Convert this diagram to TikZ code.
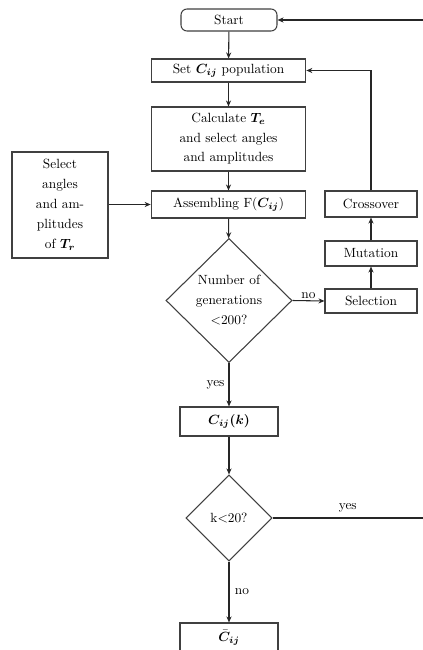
\documentclass[tikz,border=0pt]{standalone}
\usepackage{amsmath,bm}
\usetikzlibrary{shapes.geometric,arrows.meta}
\begin{document}
\begin{tikzpicture}[x=0.75pt,y=-0.75pt,
  box/.style={draw=black!75, line width=0.8pt, fill=white, inner sep=1pt, align=center, font=\fontsize{10}{14.6}\selectfont},
  dia/.style={draw=black!75, line width=0.8pt, fill=white, diamond, inner sep=0pt, align=center, font=\fontsize{10}{15}\selectfont},
  arr/.style={line width=0.8pt, draw=black!85, -{Stealth[length=4.5pt,width=3.8pt]}},
  ln/.style={line width=0.8pt, draw=black!85},
  lbl/.style={font=\fontsize{10}{12}\selectfont, inner sep=1pt}]
\useasboundingbox (0,0) rectangle (423,650);

\node[box, rounded corners=4.5pt, minimum width=72pt, minimum height=16.5pt] (start) at (229,20) {Start};
\node[box, minimum width=116pt, minimum height=17.25pt] (set) at (228.5,70.5) {Set $\bm{C_{ij}}$ population};
\node[box, minimum width=116pt, minimum height=48pt] (calc) at (228.5,139) {Calculate $\bm{T_e}$\\and select angles\\and amplitudes};
\node[box, minimum width=116pt, minimum height=20.25pt] (asm) at (228.5,204.5) {Assembling F($\bm{C_{ij}}$)};
\node[box, font=\fontsize{10}{15}\selectfont, minimum width=72pt, minimum height=79.5pt] (tr) at (60,205) {Select\\angles\\and am-\\plitudes\\of $\bm{T_r}$};
\node[dia, minimum width=94.5pt, minimum height=93pt] (d1) at (229,300.5) {Number of\\generations\\$<$200?};
\node[box, minimum width=69pt, minimum height=19.5pt] (cross) at (371,204) {Crossover};
\node[box, minimum width=69pt, minimum height=18.75pt] (mut) at (371,253.5) {Mutation};
\node[box, minimum width=69pt, minimum height=18pt] (selc) at (371,301) {Selection};
\node[box, minimum width=73.5pt, minimum height=21.75pt] (ck) at (229,421.5) {$\bm{C_{ij}(k)}$};
\node[dia, minimum width=64.5pt, minimum height=64.5pt] (d2) at (229,518) {k$<$20?};
\node[box, minimum width=73.5pt, minimum height=21.75pt] (cbar) at (229,637.5) {$\bar{\bm{C}}_{\bm{ij}}$};

\coordinate (r1) at (423,20);
\coordinate (r2) at (423,518);

\draw[arr] (r1) -- (start.east);
\draw[arr] (start) -- (set);
\draw[arr] (set) -- (calc);
\draw[arr] (calc) -- (asm);
\draw[arr] (tr.east |- asm.west) -- (asm.west);
\draw[arr] (asm) -- (d1);
\draw[arr] (d1.east) -- (selc.west) node[lbl, midway, above] {no};
\draw[arr] (selc) -- (mut);
\draw[arr] (mut) -- (cross);
\draw[arr] (cross.north) -- (cross.north |- set.east) -- (set.east);
\draw[arr] (d1.south) -- (ck.north) node[lbl, midway, left=2pt] {yes};
\draw[arr] (ck) -- (d2);
\draw[ln] (d2.east) -- (r2) node[lbl, midway, above=3pt] {yes};
\draw[arr] (d2.south) -- (cbar.north) node[lbl, midway, right=3pt] {no};
\end{tikzpicture}
\end{document}
